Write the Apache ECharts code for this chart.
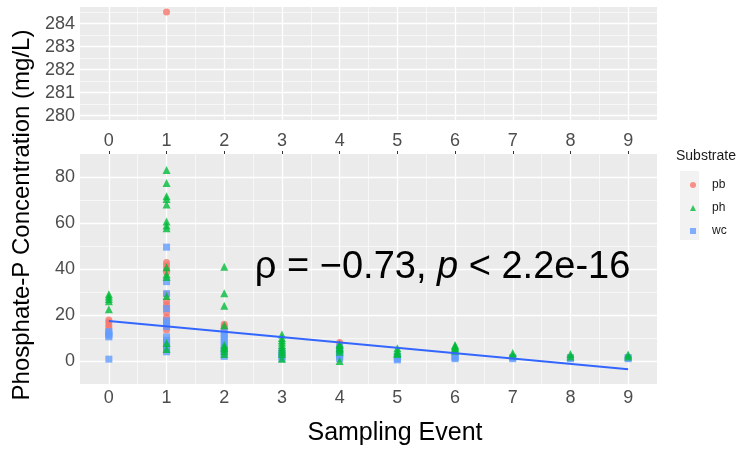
<!DOCTYPE html>
<html><head><meta charset="utf-8">
<script src="https://cdn.jsdelivr.net/npm/echarts@6/dist/echarts.min.js"></script>
<style>html,body{margin:0;padding:0;background:#fff}#c{width:739px;height:449px}</style>
</head><body><div id="c"></div>
<script>
// ---- data ----
const events = [0, 1, 2, 3, 4, 5, 6, 7, 8, 9];
// values per sampling event, index = event
const pbValues = [
  [17.8, 16.8, 15.5, 14.5],
  [284.5, 42.8, 41.5, 40, 38.5, 29, 26, 24.5, 23, 21, 19, 17.5, 16, 14.8, 13.5],
  [16, 15, 14.2],
  [],
  [8],
  [], [], [], [], []
];
const phValues = [
  [29, 28, 27, 26, 22.5],
  [83, 77.4, 71.6, 70.4, 68, 60.6, 58.9, 57.7, 40.8, 37.7, 36.5, 28.3, 7.8, 5.2],
  [41, 29.5, 24, 15.5, 7, 6, 5.5, 4.5, 3],
  [11.5, 10, 9, 8, 7, 6, 5, 4, 3, 1],
  [7.5, 7, 6, 5.5, 5, 4, 0],
  [5.5, 4.5, 3.5, 3],
  [7, 6.5, 6, 5.5, 5, 4.5],
  [3.5, 2.5],
  [3, 2],
  [2.8, 2]
];
const wcValues = [
  [12.8, 12, 11.3, 10.5, 0.8],
  [49.5, 34.5, 29.3, 22.8, 17.5, 16.4, 15, 10.5, 9, 8, 7, 6, 5, 4],
  [12.5, 11, 9.5, 8, 6.5, 5, 3.5, 2],
  [4, 3, 2, 1],
  [6, 5, 4, 3, 2, 1],
  [2, 1, 0.5],
  [2, 1.5, 1],
  [1.5, 1],
  [1.5, 1],
  [1.5, 1]
];
const trendX = [0, 9];
const trendY = [17.4, -3.6];
const xTicks = [0, 1, 2, 3, 4, 5, 6, 7, 8, 9];
const xMinor = [0.5, 1.5, 2.5, 3.5, 4.5, 5.5, 6.5, 7.5, 8.5];
const yTicksLow = [0, 20, 40, 60, 80];
const yMinorLow = [10, 30, 50, 70];
const yTicksHigh = [280, 281, 282, 283, 284];
const yMinorHigh = [280.5, 281.5, 282.5, 283.5, 284.5];
const breakAt = 200;

// ---- helpers ----
const FONT = '"Liberation Sans", Arial, sans-serif';
function pairs(vals, keep) {
  const out = [];
  vals.forEach((arr, i) => arr.forEach(v => { if (keep(v)) out.push([events[i], v]); }));
  return out;
}
const low = v => v < breakAt, high = v => v >= breakAt;
function gridLines(yMaj, yMin) {
  const d = [];
  yMin.forEach(v => d.push({ yAxis: v, lineStyle: { width: 0.6 } }));
  xMinor.forEach(v => d.push({ xAxis: v, lineStyle: { width: 0.6 } }));
  yMaj.forEach(v => d.push({ yAxis: v, lineStyle: { width: 1.3 } }));
  xTicks.forEach(v => d.push({ xAxis: v, lineStyle: { width: 1.3 } }));
  return d;
}
const axisLabelStyle = { color: '#4D4D4D', fontSize: 18, fontFamily: FONT };
const tickStyle = { show: true, length: 3, lineStyle: { color: '#333', width: 1 } };

const chart = echarts.init(document.getElementById('c'), null, { renderer: 'canvas' });
const XMIN = -0.5, XMAX = 9.5;
const option = {
  animation: false,
  backgroundColor: '#fff',
  grid: [
    { left: 80, width: 577, top: 7, height: 113, show: true, backgroundColor: '#EBEBEB', borderWidth: 0 },
    { left: 80, width: 577, top: 154, height: 230, show: true, backgroundColor: '#EBEBEB', borderWidth: 0 }
  ],
  xAxis: [
    { gridIndex: 0, type: 'value', min: XMIN, max: XMAX, interval: 0.5,
      axisLine: { show: false }, axisTick: { show: false }, axisLabel: { show: false }, splitLine: { show: false } },
    { gridIndex: 1, type: 'value', min: XMIN, max: XMAX, interval: 0.5, position: 'bottom',
      axisLine: { show: false },
      axisTick: Object.assign({ customValues: xTicks }, tickStyle),
      axisLabel: Object.assign({ customValues: xTicks, margin: 5,
        formatter: v => (Number.isInteger(v) ? String(v) : '') }, axisLabelStyle),
      splitLine: { show: false } },
    { gridIndex: 1, type: 'value', min: XMIN, max: XMAX, interval: 0.5, position: 'top',
      axisLine: { show: false },
      axisTick: Object.assign({ customValues: xTicks }, tickStyle),
      axisLabel: Object.assign({ customValues: xTicks, margin: 4,
        formatter: v => (Number.isInteger(v) ? String(v) : '') }, axisLabelStyle),
      splitLine: { show: false } }
  ],
  yAxis: [
    { gridIndex: 0, type: 'value', min: 279.81, max: 284.72,
      axisLine: { show: false },
      axisTick: Object.assign({ customValues: yTicksHigh }, tickStyle),
      axisLabel: Object.assign({ customValues: yTicksHigh, margin: 5 }, axisLabelStyle),
      splitLine: { show: false } },
    { gridIndex: 1, type: 'value', min: -10, max: 90, interval: 10,
      axisLine: { show: false },
      axisTick: Object.assign({ customValues: yTicksLow }, tickStyle),
      axisLabel: Object.assign({ customValues: yTicksLow, margin: 5,
        formatter: v => (v % 20 === 0 && v >= 0 && v <= 80 ? String(v) : '') }, axisLabelStyle),
      splitLine: { show: false } }
  ],
  legend: {
    orient: 'vertical', left: 685, top: 173, itemWidth: 6, itemHeight: 6, itemGap: 9,
    textStyle: { fontSize: 12, fontFamily: FONT, color: '#1A1A1A', lineHeight: 14, padding: [0, 0, 0, 11] },
    data: [ { name: 'pb', icon: 'circle' }, { name: 'ph', icon: 'triangle' }, { name: 'wc', icon: 'rect' } ]
  },
  series: [
    { type: 'line', xAxisIndex: 0, yAxisIndex: 0, data: [], z: 1, silent: true,
      markLine: { z: 1, silent: true, symbol: 'none', label: { show: false }, animation: false,
        lineStyle: { color: '#FFFFFF', type: 'solid' }, data: gridLines(yTicksHigh, yMinorHigh) } },
    { type: 'line', xAxisIndex: 1, yAxisIndex: 1, data: [], z: 1, silent: true,
      markLine: { z: 1, silent: true, symbol: 'none', label: { show: false }, animation: false,
        lineStyle: { color: '#FFFFFF', type: 'solid' }, data: gridLines(yTicksLow, yMinorLow) } },
    { name: 'pb', type: 'scatter', xAxisIndex: 0, yAxisIndex: 0, z: 3, symbol: 'circle', symbolSize: 7,
      itemStyle: { color: '#F8766D' }, data: pairs(pbValues, high) },
    { name: 'pb', type: 'scatter', xAxisIndex: 1, yAxisIndex: 1, z: 3, symbol: 'circle', symbolSize: 7,
      itemStyle: { color: '#F8766D' }, data: pairs(pbValues, low) },
    { name: 'wc', type: 'scatter', xAxisIndex: 1, yAxisIndex: 1, z: 3, symbol: 'rect', symbolSize: 7,
      itemStyle: { color: '#619CFF' }, data: pairs(wcValues, low) },
    { name: 'ph', type: 'scatter', xAxisIndex: 1, yAxisIndex: 1, z: 3, symbol: 'triangle', symbolSize: 8,
      itemStyle: { color: '#00BA38' }, data: pairs(phValues, low) },
    { name: 'trend', type: 'line', xAxisIndex: 1, yAxisIndex: 1, z: 4, symbol: 'none', silent: true,
      lineStyle: { color: '#3366FF', width: 2 }, data: trendX.map((x, i) => [x, trendY[i]]) }
  ]
};
chart.setOption(option);

const txtPos = chart.convertToPixel({ gridIndex: 1 }, [2.53, 40.6]);
chart.setOption({
  graphic: [
    { type: 'rect', shape: { x: 680, y: 171, width: 19, height: 69 }, style: { fill: '#F2F2F2' }, z: -1 },
    { type: 'text', x: 676, y: 156, style: { text: 'Substrate', font: '14px ' + FONT, fill: '#1A1A1A', textVerticalAlign: 'middle' } },
    { type: 'text', x: 395, y: 433, style: { text: 'Sampling Event', font: '25px ' + FONT, fill: '#000', textAlign: 'center', textVerticalAlign: 'middle' } },
    { type: 'text', x: 22, y: 215, rotation: Math.PI / 2,
      style: { text: 'Phosphate-P Concentration (mg/L)', font: '24px ' + FONT, fill: '#000', textAlign: 'center', textVerticalAlign: 'middle' } },
    { type: 'text', x: txtPos[0], y: txtPos[1], z: 10,
      style: { text: '{a|ρ = \u22120.73, }{b|p}{a| < 2.2e-16}', textVerticalAlign: 'middle',
        rich: { a: { fontSize: 38, fontFamily: FONT, fill: '#000', color: '#000' },
                b: { fontSize: 38, fontFamily: FONT, fontStyle: 'italic', fill: '#000', color: '#000' } } } }
  ]
});
</script>
</body></html>
